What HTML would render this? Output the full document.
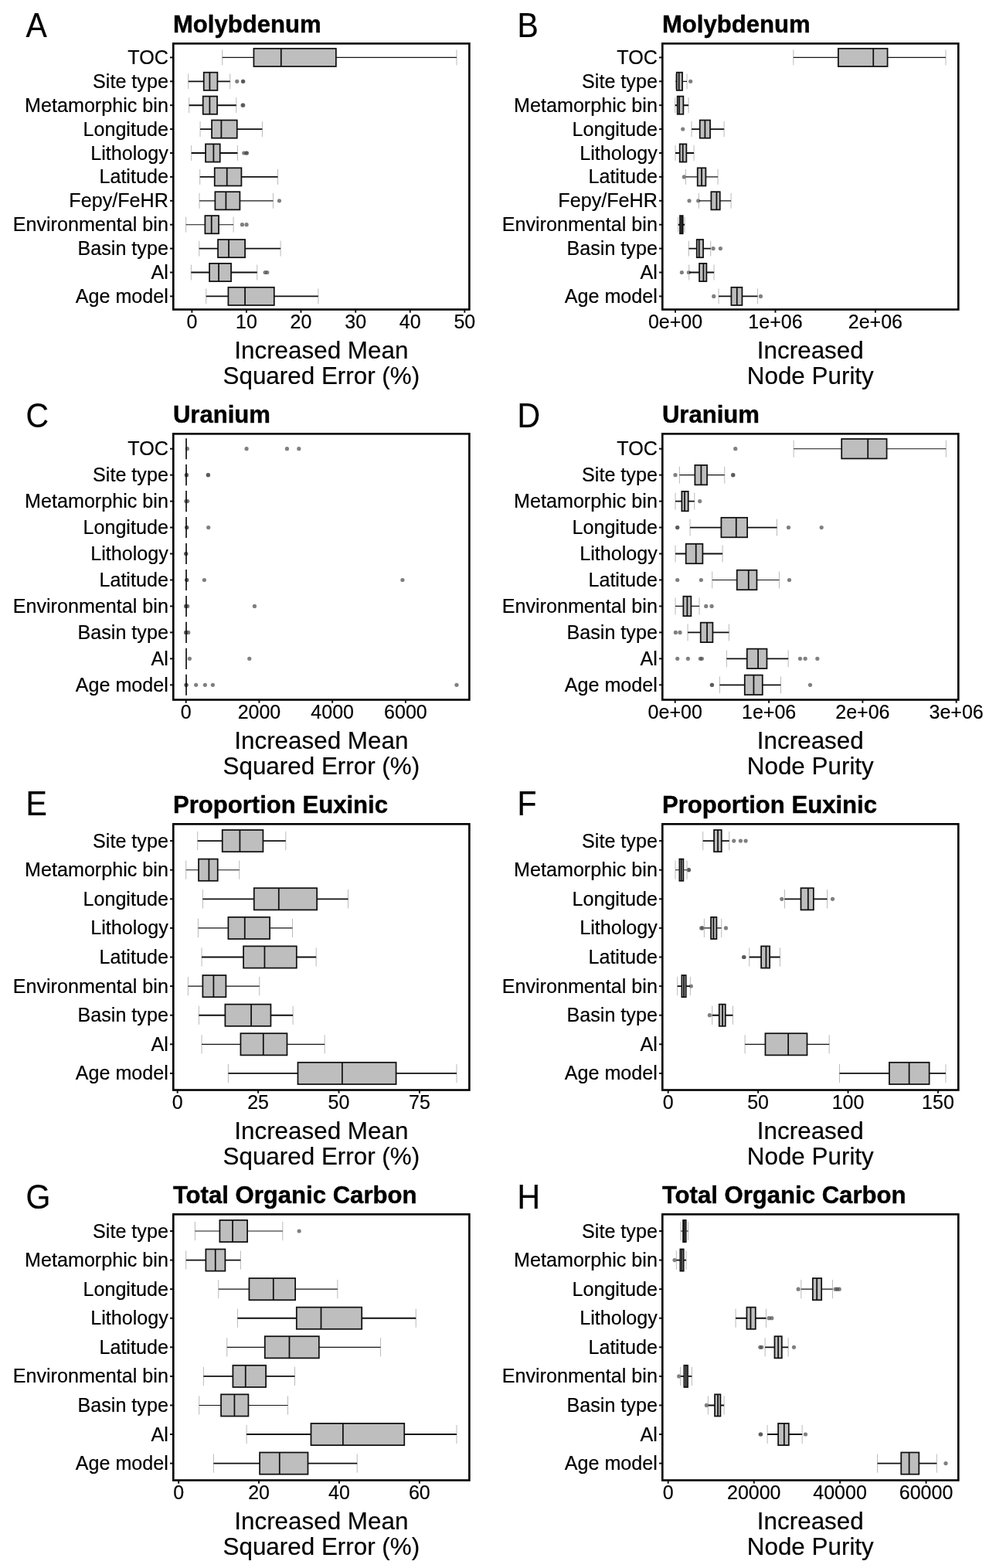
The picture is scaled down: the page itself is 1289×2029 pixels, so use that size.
<!DOCTYPE html>
<html lang="en">
<head>
<meta charset="utf-8">
<title>Random forest variable importance</title>
<style>
html,body{margin:0;padding:0;background:#fff;}
body{width:1289px;height:2029px;overflow:hidden;}
svg{display:block;}
text{font-family:"Liberation Sans", sans-serif;fill:#000;stroke:#000;stroke-width:0.2px;stroke-linejoin:round;}
.tt{stroke-width:0.45px;}
.fr{fill:none;stroke:#000;stroke-width:2.6;}
.tk{stroke:#111;stroke-width:2;fill:none;}
.bx{fill:#bebebe;stroke:#101010;stroke-width:1.75;}
.md{stroke:#101010;stroke-width:1.75;fill:none;}
.md2{stroke:#101010;stroke-width:1.7;fill:none;}
.wk{stroke:#101010;stroke-width:1.85;fill:none;}
.wt{stroke:#141414;stroke-width:1.15;fill:none;}
.cp{stroke:#a8a8a8;stroke-width:0.8;fill:none;}
.ot{fill:#4a4a4a;fill-opacity:0.7;}
</style>
</head>
<body>
<svg width="1289" height="2029" viewBox="0 0 1289 2029">
<rect x="0" y="0" width="1289" height="2029" fill="#fff"/>
<g>
<text transform="translate(33.5 47.85) scale(1 1.085)" font-size="41" class="lt">A</text>
<text x="223.9" y="42.35" font-size="31.1" font-weight="bold" class="tt">Molybdenum</text>
<text x="217.9" y="82.9" font-size="25.15" text-anchor="end" class="yl">TOC</text>
<path d="M220 74.4H224.3" class="tk"/>
<path d="M287.73 64.43V84.37M590.97 64.43V84.37" class="cp"/>
<path d="M287.73 74.4H328.43M434.85 74.4H590.97" class="wt"/>
<rect x="328.43" y="62.81" width="106.42" height="23.17" class="bx"/>
<path d="M363.79 62.81V85.99" class="md"/>
<text x="217.9" y="113.8" font-size="25.15" text-anchor="end" class="yl">Site type</text>
<path d="M220 105.3H224.3" class="tk"/>
<circle cx="306.75" cy="105.3" r="2.6" class="ot"/>
<circle cx="314.42" cy="105.3" r="2.6" class="ot"/>
<circle cx="314.76" cy="105.3" r="2.6" class="ot"/>
<path d="M243.7 95.33V115.27M297.74 95.33V115.27" class="cp"/>
<path d="M243.7 105.3H263.72M281.4 105.3H297.74" class="wk"/>
<rect x="263.72" y="93.71" width="17.68" height="23.17" class="bx"/>
<path d="M271.39 93.71V116.89" class="md"/>
<text x="217.9" y="144.7" font-size="25.15" text-anchor="end" class="yl">Metamorphic bin</text>
<path d="M220 136.2H224.3" class="tk"/>
<circle cx="314.09" cy="136.2" r="2.6" class="ot"/>
<circle cx="314.76" cy="136.2" r="2.6" class="ot"/>
<path d="M244.7 126.23V146.17M305.75 126.23V146.17" class="cp"/>
<path d="M244.7 136.2H262.72M281.06 136.2H305.75" class="wk"/>
<rect x="262.72" y="124.61" width="18.35" height="23.17" class="bx"/>
<path d="M271.39 124.61V147.79" class="md"/>
<text x="217.9" y="175.6" font-size="25.15" text-anchor="end" class="yl">Longitude</text>
<path d="M220 167.1H224.3" class="tk"/>
<path d="M259.05 157.13V177.07M339.44 157.13V177.07" class="cp"/>
<path d="M259.05 167.1H274.06M306.75 167.1H339.44" class="wk"/>
<rect x="274.06" y="155.51" width="32.69" height="23.17" class="bx"/>
<path d="M286.4 155.51V178.69" class="md"/>
<text x="217.9" y="206.5" font-size="25.15" text-anchor="end" class="yl">Lithology</text>
<path d="M220 198H224.3" class="tk"/>
<circle cx="315.76" cy="198" r="2.6" class="ot"/>
<circle cx="318.76" cy="198" r="2.6" class="ot"/>
<circle cx="319.43" cy="198" r="2.6" class="ot"/>
<path d="M247.7 188.03V207.97M307.42 188.03V207.97" class="cp"/>
<path d="M247.7 198H266.05M284.73 198H307.42" class="wk"/>
<rect x="266.05" y="186.41" width="18.68" height="23.17" class="bx"/>
<path d="M276.39 186.41V209.59" class="md"/>
<text x="217.9" y="237.4" font-size="25.15" text-anchor="end" class="yl">Latitude</text>
<path d="M220 228.9H224.3" class="tk"/>
<path d="M258.71 218.93V238.87M359.46 218.93V238.87" class="cp"/>
<path d="M258.71 228.9H277.73M312.42 228.9H359.46" class="wk"/>
<rect x="277.73" y="217.31" width="34.69" height="23.17" class="bx"/>
<path d="M293.74 217.31V240.49" class="md"/>
<text x="217.9" y="268.3" font-size="25.15" text-anchor="end" class="yl">Fepy/FeHR</text>
<path d="M220 259.8H224.3" class="tk"/>
<circle cx="361.46" cy="259.8" r="2.6" class="ot"/>
<path d="M258.04 249.83V269.77M353.45 249.83V269.77" class="cp"/>
<path d="M258.04 259.8H278.39M310.42 259.8H353.45" class="wt"/>
<rect x="278.39" y="248.21" width="32.02" height="23.17" class="bx"/>
<path d="M292.4 248.21V271.39" class="md"/>
<text x="217.9" y="299.2" font-size="25.15" text-anchor="end" class="yl">Environmental bin</text>
<path d="M220 290.7H224.3" class="tk"/>
<circle cx="313.42" cy="290.7" r="2.6" class="ot"/>
<circle cx="319.09" cy="290.7" r="2.6" class="ot"/>
<path d="M240.7 280.73V300.67M302.08 280.73V300.67" class="cp"/>
<path d="M240.7 290.7H265.38M283.06 290.7H302.08" class="wt"/>
<rect x="265.38" y="279.11" width="17.68" height="23.17" class="bx"/>
<path d="M273.72 279.11V302.29" class="md"/>
<text x="217.9" y="330.1" font-size="25.15" text-anchor="end" class="yl">Basin type</text>
<path d="M220 321.6H224.3" class="tk"/>
<path d="M257.71 311.63V331.57M363.13 311.63V331.57" class="cp"/>
<path d="M257.71 321.6H282.06M317.09 321.6H363.13" class="wk"/>
<rect x="282.06" y="310.01" width="35.03" height="23.17" class="bx"/>
<path d="M296.07 310.01V333.19" class="md"/>
<text x="217.9" y="361" font-size="25.15" text-anchor="end" class="yl">Al</text>
<path d="M220 352.5H224.3" class="tk"/>
<circle cx="343.11" cy="352.5" r="2.6" class="ot"/>
<circle cx="345.78" cy="352.5" r="2.6" class="ot"/>
<path d="M247.37 342.53V362.47M332.77 342.53V362.47" class="cp"/>
<path d="M247.37 352.5H271.06M299.08 352.5H332.77" class="wk"/>
<rect x="271.06" y="340.91" width="28.02" height="23.17" class="bx"/>
<path d="M283.06 340.91V364.09" class="md"/>
<text x="217.9" y="391.9" font-size="25.15" text-anchor="end" class="yl">Age model</text>
<path d="M220 383.4H224.3" class="tk"/>
<path d="M266.72 373.43V393.37M411.83 373.43V393.37" class="cp"/>
<path d="M266.72 383.4H295.41M354.79 383.4H411.83" class="wk"/>
<rect x="295.41" y="371.81" width="59.38" height="23.17" class="bx"/>
<path d="M317.09 371.81V394.99" class="md"/>
<rect x="224.3" y="56.35" width="383.1" height="344.15" class="fr"/>
<path d="M248.37 400.5V404.7" class="tk"/>
<text x="248.37" y="424.9" font-size="25.0" text-anchor="middle" class="xt">0</text>
<path d="M318.93 400.5V404.7" class="tk"/>
<text x="318.93" y="424.9" font-size="25.0" text-anchor="middle" class="xt">10</text>
<path d="M389.48 400.5V404.7" class="tk"/>
<text x="389.48" y="424.9" font-size="25.0" text-anchor="middle" class="xt">20</text>
<path d="M460.2 400.5V404.7" class="tk"/>
<text x="460.2" y="424.9" font-size="25.0" text-anchor="middle" class="xt">30</text>
<path d="M530.76 400.5V404.7" class="tk"/>
<text x="530.76" y="424.9" font-size="25.0" text-anchor="middle" class="xt">40</text>
<path d="M601.31 400.5V404.7" class="tk"/>
<text x="601.31" y="424.9" font-size="25.0" text-anchor="middle" class="xt">50</text>
<text x="415.85" y="463.7" font-size="31.4" text-anchor="middle" class="xl">Increased Mean</text>
<text x="415.85" y="497" font-size="31.4" text-anchor="middle" class="xl">Squared Error (%)</text>
</g>
<g>
<text transform="translate(669.6 47.85) scale(1 1.085)" font-size="41" class="lt">B</text>
<text x="856.9" y="42.35" font-size="31.1" font-weight="bold" class="tt">Molybdenum</text>
<text x="850.9" y="82.9" font-size="25.15" text-anchor="end" class="yl">TOC</text>
<path d="M853 74.4H857.3" class="tk"/>
<path d="M1026.82 64.43V84.37M1223.97 64.43V84.37" class="cp"/>
<path d="M1026.82 74.4H1084.86M1148.58 74.4H1223.97" class="wt"/>
<rect x="1084.86" y="62.81" width="63.72" height="23.17" class="bx"/>
<path d="M1130.23 62.81V85.99" class="md"/>
<text x="850.9" y="113.8" font-size="25.15" text-anchor="end" class="yl">Site type</text>
<path d="M853 105.3H857.3" class="tk"/>
<circle cx="893.71" cy="105.3" r="2.6" class="ot"/>
<path d="M874.36 95.33V115.27M889.04 95.33V115.27" class="cp"/>
<path d="M874.36 105.3H875.7M883.04 105.3H889.04" class="wt"/>
<rect x="875.7" y="93.71" width="7.34" height="23.17" class="bx"/>
<path d="M878.7 93.71V116.89" class="md"/>
<text x="850.9" y="144.7" font-size="25.15" text-anchor="end" class="yl">Metamorphic bin</text>
<path d="M853 136.2H857.3" class="tk"/>
<path d="M873.7 126.23V146.17M891.04 126.23V146.17" class="cp"/>
<path d="M873.7 136.2H876.7M884.37 136.2H891.04" class="wk"/>
<rect x="876.7" y="124.61" width="7.67" height="23.17" class="bx"/>
<path d="M879.03 124.61V147.79" class="md"/>
<text x="850.9" y="175.6" font-size="25.15" text-anchor="end" class="yl">Longitude</text>
<path d="M853 167.1H857.3" class="tk"/>
<circle cx="883.7" cy="167.1" r="2.6" class="ot"/>
<path d="M895.05 157.13V177.07M937.08 157.13V177.07" class="cp"/>
<path d="M895.05 167.1H905.72M919.07 167.1H937.08" class="wk"/>
<rect x="905.72" y="155.51" width="13.34" height="23.17" class="bx"/>
<path d="M912.39 155.51V178.69" class="md"/>
<text x="850.9" y="206.5" font-size="25.15" text-anchor="end" class="yl">Lithology</text>
<path d="M853 198H857.3" class="tk"/>
<path d="M874.03 188.03V207.97M898.05 188.03V207.97" class="cp"/>
<path d="M874.03 198H879.7M888.37 198H898.05" class="wk"/>
<rect x="879.7" y="186.41" width="8.67" height="23.17" class="bx"/>
<path d="M883.7 186.41V209.59" class="md"/>
<text x="850.9" y="237.4" font-size="25.15" text-anchor="end" class="yl">Latitude</text>
<path d="M853 228.9H857.3" class="tk"/>
<circle cx="885.37" cy="228.9" r="2.6" class="ot"/>
<path d="M887.37 218.93V238.87M929.07 218.93V238.87" class="cp"/>
<path d="M887.37 228.9H902.72M913.39 228.9H929.07" class="wt"/>
<rect x="902.72" y="217.31" width="10.67" height="23.17" class="bx"/>
<path d="M908.06 217.31V240.49" class="md"/>
<text x="850.9" y="268.3" font-size="25.15" text-anchor="end" class="yl">Fepy/FeHR</text>
<path d="M853 259.8H857.3" class="tk"/>
<circle cx="892.04" cy="259.8" r="2.6" class="ot"/>
<circle cx="903.72" cy="259.8" r="2.6" class="ot"/>
<path d="M904.39 249.83V269.77M946.09 249.83V269.77" class="cp"/>
<path d="M904.39 259.8H920.4M931.74 259.8H946.09" class="wt"/>
<rect x="920.4" y="248.21" width="11.34" height="23.17" class="bx"/>
<path d="M927.4 248.21V271.39" class="md"/>
<text x="850.9" y="299.2" font-size="25.15" text-anchor="end" class="yl">Environmental bin</text>
<path d="M853 290.7H857.3" class="tk"/>
<path d="M877.7 280.73V300.67M886.04 280.73V300.67" class="cp"/>
<path d="M877.7 290.7H880.03M883.7 290.7H886.04" class="wk"/>
<rect x="880.03" y="279.11" width="3.67" height="23.17" class="bx"/>
<path d="M882.04 279.11V302.29" class="md"/>
<text x="850.9" y="330.1" font-size="25.15" text-anchor="end" class="yl">Basin type</text>
<path d="M853 321.6H857.3" class="tk"/>
<circle cx="923.07" cy="321.6" r="2.6" class="ot"/>
<circle cx="932.41" cy="321.6" r="2.6" class="ot"/>
<path d="M891.38 311.63V331.57M919.73 311.63V331.57" class="cp"/>
<path d="M891.38 321.6H901.72M910.06 321.6H919.73" class="wk"/>
<rect x="901.72" y="310.01" width="8.34" height="23.17" class="bx"/>
<path d="M904.72 310.01V333.19" class="md"/>
<text x="850.9" y="361" font-size="25.15" text-anchor="end" class="yl">Al</text>
<path d="M853 352.5H857.3" class="tk"/>
<circle cx="882.37" cy="352.5" r="2.6" class="ot"/>
<circle cx="891.38" cy="352.5" r="2.6" class="ot"/>
<path d="M891.71 342.53V362.47M924.07 342.53V362.47" class="cp"/>
<path d="M891.71 352.5H905.05M914.39 352.5H924.07" class="wk"/>
<rect x="905.05" y="340.91" width="9.34" height="23.17" class="bx"/>
<path d="M910.39 340.91V364.09" class="md"/>
<text x="850.9" y="391.9" font-size="25.15" text-anchor="end" class="yl">Age model</text>
<path d="M853 383.4H857.3" class="tk"/>
<circle cx="923.74" cy="383.4" r="2.6" class="ot"/>
<circle cx="984.45" cy="383.4" r="2.6" class="ot"/>
<path d="M930.07 373.43V393.37M980.45 373.43V393.37" class="cp"/>
<path d="M930.07 383.4H946.42M960.43 383.4H980.45" class="wk"/>
<rect x="946.42" y="371.81" width="14.01" height="23.17" class="bx"/>
<path d="M953.76 371.81V394.99" class="md"/>
<rect x="857.3" y="56.35" width="383" height="344.15" class="fr"/>
<path d="M874.03 400.5V404.7" class="tk"/>
<text x="874.03" y="424.9" font-size="25.0" text-anchor="middle" class="xt">0e+00</text>
<path d="M1003.46 400.5V404.7" class="tk"/>
<text x="1003.46" y="424.9" font-size="25.0" text-anchor="middle" class="xt">1e+06</text>
<path d="M1132.9 400.5V404.7" class="tk"/>
<text x="1132.9" y="424.9" font-size="25.0" text-anchor="middle" class="xt">2e+06</text>
<text x="1048.8" y="463.7" font-size="31.4" text-anchor="middle" class="xl">Increased</text>
<text x="1048.8" y="497" font-size="31.4" text-anchor="middle" class="xl">Node Purity</text>
</g>
<g>
<text transform="translate(33.5 553) scale(1 1.085)" font-size="41" class="lt">C</text>
<text x="223.9" y="547.35" font-size="31.1" font-weight="bold" class="tt">Uranium</text>
<text x="217.9" y="589.2" font-size="25.15" text-anchor="end" class="yl">TOC</text>
<path d="M220 580.7H224.3" class="tk"/>
<circle cx="242.37" cy="580.7" r="2.6" class="ot"/>
<circle cx="319.09" cy="580.7" r="2.6" class="ot"/>
<circle cx="371.47" cy="580.7" r="2.6" class="ot"/>
<circle cx="386.81" cy="580.7" r="2.6" class="ot"/>
<path d="M241.03 567.17V594.23" class="md2"/>
<text x="217.9" y="623.16" font-size="25.15" text-anchor="end" class="yl">Site type</text>
<path d="M220 614.66H224.3" class="tk"/>
<circle cx="241.37" cy="614.66" r="2.6" class="ot"/>
<circle cx="241.37" cy="614.66" r="2.6" class="ot"/>
<circle cx="269.39" cy="614.66" r="2.6" class="ot"/>
<circle cx="269.39" cy="614.66" r="2.6" class="ot"/>
<path d="M241.03 601.12V628.19" class="md2"/>
<text x="217.9" y="657.11" font-size="25.15" text-anchor="end" class="yl">Metamorphic bin</text>
<path d="M220 648.61H224.3" class="tk"/>
<circle cx="240.7" cy="648.61" r="2.6" class="ot"/>
<circle cx="242.7" cy="648.61" r="2.6" class="ot"/>
<path d="M241.03 635.08V662.14" class="md2"/>
<text x="217.9" y="691.07" font-size="25.15" text-anchor="end" class="yl">Longitude</text>
<path d="M220 682.57H224.3" class="tk"/>
<circle cx="241.7" cy="682.57" r="2.6" class="ot"/>
<circle cx="241.7" cy="682.57" r="2.6" class="ot"/>
<circle cx="269.72" cy="682.57" r="2.6" class="ot"/>
<path d="M241.03 669.03V696.1" class="md2"/>
<text x="217.9" y="725.02" font-size="25.15" text-anchor="end" class="yl">Lithology</text>
<path d="M220 716.52H224.3" class="tk"/>
<circle cx="240.7" cy="716.52" r="2.6" class="ot"/>
<circle cx="240.7" cy="716.52" r="2.6" class="ot"/>
<path d="M241.03 702.99V730.06" class="md2"/>
<text x="217.9" y="758.98" font-size="25.15" text-anchor="end" class="yl">Latitude</text>
<path d="M220 750.48H224.3" class="tk"/>
<circle cx="241.7" cy="750.48" r="2.6" class="ot"/>
<circle cx="241.7" cy="750.48" r="2.6" class="ot"/>
<circle cx="264.38" cy="750.48" r="2.6" class="ot"/>
<circle cx="520.92" cy="750.48" r="2.6" class="ot"/>
<path d="M241.03 736.94V764.01" class="md2"/>
<text x="217.9" y="792.93" font-size="25.15" text-anchor="end" class="yl">Environmental bin</text>
<path d="M220 784.43H224.3" class="tk"/>
<circle cx="240.7" cy="784.43" r="2.6" class="ot"/>
<circle cx="240.7" cy="784.43" r="2.6" class="ot"/>
<circle cx="242.7" cy="784.43" r="2.6" class="ot"/>
<circle cx="329.43" cy="784.43" r="2.6" class="ot"/>
<path d="M241.03 770.9V797.97" class="md2"/>
<text x="217.9" y="826.89" font-size="25.15" text-anchor="end" class="yl">Basin type</text>
<path d="M220 818.39H224.3" class="tk"/>
<circle cx="240.7" cy="818.39" r="2.6" class="ot"/>
<circle cx="240.7" cy="818.39" r="2.6" class="ot"/>
<circle cx="243.7" cy="818.39" r="2.6" class="ot"/>
<path d="M241.03 804.86V831.92" class="md2"/>
<text x="217.9" y="860.84" font-size="25.15" text-anchor="end" class="yl">Al</text>
<path d="M220 852.34H224.3" class="tk"/>
<circle cx="245.37" cy="852.34" r="2.6" class="ot"/>
<circle cx="322.76" cy="852.34" r="2.6" class="ot"/>
<path d="M241.03 838.81V865.88" class="md2"/>
<text x="217.9" y="894.8" font-size="25.15" text-anchor="end" class="yl">Age model</text>
<path d="M220 886.3H224.3" class="tk"/>
<circle cx="241.03" cy="886.3" r="2.6" class="ot"/>
<circle cx="241.03" cy="886.3" r="2.6" class="ot"/>
<circle cx="253.71" cy="886.3" r="2.6" class="ot"/>
<circle cx="265.38" cy="886.3" r="2.6" class="ot"/>
<circle cx="275.39" cy="886.3" r="2.6" class="ot"/>
<circle cx="590.97" cy="886.3" r="2.6" class="ot"/>
<path d="M241.03 872.77V899.83" class="md2"/>
<rect x="224.3" y="561.35" width="383.1" height="344.15" class="fr"/>
<path d="M240.7 905.5V909.7" class="tk"/>
<text x="240.7" y="929.9" font-size="25.0" text-anchor="middle" class="xt">0</text>
<path d="M335.44 905.5V909.7" class="tk"/>
<text x="335.44" y="929.9" font-size="25.0" text-anchor="middle" class="xt">2000</text>
<path d="M430.18 905.5V909.7" class="tk"/>
<text x="430.18" y="929.9" font-size="25.0" text-anchor="middle" class="xt">4000</text>
<path d="M524.92 905.5V909.7" class="tk"/>
<text x="524.92" y="929.9" font-size="25.0" text-anchor="middle" class="xt">6000</text>
<text x="415.85" y="968.7" font-size="31.4" text-anchor="middle" class="xl">Increased Mean</text>
<text x="415.85" y="1002" font-size="31.4" text-anchor="middle" class="xl">Squared Error (%)</text>
</g>
<g>
<text transform="translate(669.6 553) scale(1 1.085)" font-size="41" class="lt">D</text>
<text x="856.9" y="547.35" font-size="31.1" font-weight="bold" class="tt">Uranium</text>
<text x="850.9" y="589.2" font-size="25.15" text-anchor="end" class="yl">TOC</text>
<path d="M853 580.7H857.3" class="tk"/>
<circle cx="951.76" cy="580.7" r="2.6" class="ot"/>
<path d="M1027.15 569.75V591.65M1224.3 569.75V591.65" class="cp"/>
<path d="M1027.15 580.7H1089.2M1147.58 580.7H1224.3" class="wt"/>
<rect x="1089.2" y="567.97" width="58.38" height="25.47" class="bx"/>
<path d="M1123.22 567.97V593.43" class="md"/>
<text x="850.9" y="623.16" font-size="25.15" text-anchor="end" class="yl">Site type</text>
<path d="M853 614.66H857.3" class="tk"/>
<circle cx="874.03" cy="614.66" r="2.6" class="ot"/>
<circle cx="948.75" cy="614.66" r="2.6" class="ot"/>
<circle cx="948.75" cy="614.66" r="2.6" class="ot"/>
<path d="M879.37 603.7V625.61M937.75 603.7V625.61" class="cp"/>
<path d="M879.37 614.66H899.38M915.06 614.66H937.75" class="wt"/>
<rect x="899.38" y="601.92" width="15.68" height="25.47" class="bx"/>
<path d="M907.39 601.92V627.39" class="md"/>
<text x="850.9" y="657.11" font-size="25.15" text-anchor="end" class="yl">Metamorphic bin</text>
<path d="M853 648.61H857.3" class="tk"/>
<circle cx="905.72" cy="648.61" r="2.6" class="ot"/>
<path d="M874.03 637.66V659.56M898.72 637.66V659.56" class="cp"/>
<path d="M874.03 648.61H882.37M890.71 648.61H898.72" class="wk"/>
<rect x="882.37" y="635.88" width="8.34" height="25.47" class="bx"/>
<path d="M886.04 635.88V661.34" class="md"/>
<text x="850.9" y="691.07" font-size="25.15" text-anchor="end" class="yl">Longitude</text>
<path d="M853 682.57H857.3" class="tk"/>
<circle cx="876.7" cy="682.57" r="2.6" class="ot"/>
<circle cx="876.7" cy="682.57" r="2.6" class="ot"/>
<circle cx="1020.48" cy="682.57" r="2.6" class="ot"/>
<circle cx="1063.18" cy="682.57" r="2.6" class="ot"/>
<path d="M893.04 671.62V693.52M1005.47 671.62V693.52" class="cp"/>
<path d="M893.04 682.57H933.41M967.1 682.57H1005.47" class="wk"/>
<rect x="933.41" y="669.83" width="33.69" height="25.47" class="bx"/>
<path d="M952.76 669.83V695.3" class="md"/>
<text x="850.9" y="725.02" font-size="25.15" text-anchor="end" class="yl">Lithology</text>
<path d="M853 716.52H857.3" class="tk"/>
<path d="M874.03 705.57V727.47M935.08 705.57V727.47" class="cp"/>
<path d="M874.03 716.52H887.71M909.39 716.52H935.08" class="wk"/>
<rect x="887.71" y="703.79" width="21.68" height="25.47" class="bx"/>
<path d="M900.72 703.79V729.26" class="md"/>
<text x="850.9" y="758.98" font-size="25.15" text-anchor="end" class="yl">Latitude</text>
<path d="M853 750.48H857.3" class="tk"/>
<circle cx="876.7" cy="750.48" r="2.6" class="ot"/>
<circle cx="907.39" cy="750.48" r="2.6" class="ot"/>
<circle cx="1021.48" cy="750.48" r="2.6" class="ot"/>
<path d="M921.73 739.53V761.43M1008.47 739.53V761.43" class="cp"/>
<path d="M921.73 750.48H953.76M979.45 750.48H1008.47" class="wt"/>
<rect x="953.76" y="737.74" width="25.69" height="25.47" class="bx"/>
<path d="M968.77 737.74V763.21" class="md"/>
<text x="850.9" y="792.93" font-size="25.15" text-anchor="end" class="yl">Environmental bin</text>
<path d="M853 784.43H857.3" class="tk"/>
<circle cx="913.73" cy="784.43" r="2.6" class="ot"/>
<circle cx="921.07" cy="784.43" r="2.6" class="ot"/>
<path d="M874.03 773.48V795.38M905.05 773.48V795.38" class="cp"/>
<path d="M874.03 784.43H884.37M894.38 784.43H905.05" class="wt"/>
<rect x="884.37" y="771.7" width="10.01" height="25.47" class="bx"/>
<path d="M889.38 771.7V797.17" class="md"/>
<text x="850.9" y="826.89" font-size="25.15" text-anchor="end" class="yl">Basin type</text>
<path d="M853 818.39H857.3" class="tk"/>
<circle cx="874.36" cy="818.39" r="2.6" class="ot"/>
<circle cx="880.03" cy="818.39" r="2.6" class="ot"/>
<path d="M890.04 807.44V829.34M943.42 807.44V829.34" class="cp"/>
<path d="M890.04 818.39H906.72M922.4 818.39H943.42" class="wk"/>
<rect x="906.72" y="805.66" width="15.68" height="25.47" class="bx"/>
<path d="M915.06 805.66V831.12" class="md"/>
<text x="850.9" y="860.84" font-size="25.15" text-anchor="end" class="yl">Al</text>
<path d="M853 852.34H857.3" class="tk"/>
<circle cx="876.7" cy="852.34" r="2.6" class="ot"/>
<circle cx="890.38" cy="852.34" r="2.6" class="ot"/>
<circle cx="906.39" cy="852.34" r="2.6" class="ot"/>
<circle cx="908.39" cy="852.34" r="2.6" class="ot"/>
<circle cx="1035.49" cy="852.34" r="2.6" class="ot"/>
<circle cx="1042.16" cy="852.34" r="2.6" class="ot"/>
<circle cx="1057.84" cy="852.34" r="2.6" class="ot"/>
<path d="M940.42 841.39V863.3M1020.14 841.39V863.3" class="cp"/>
<path d="M940.42 852.34H966.77M992.46 852.34H1020.14" class="wk"/>
<rect x="966.77" y="839.61" width="25.69" height="25.47" class="bx"/>
<path d="M981.11 839.61V865.08" class="md"/>
<text x="850.9" y="894.8" font-size="25.15" text-anchor="end" class="yl">Age model</text>
<path d="M853 886.3H857.3" class="tk"/>
<circle cx="921.4" cy="886.3" r="2.6" class="ot"/>
<circle cx="921.4" cy="886.3" r="2.6" class="ot"/>
<circle cx="1048.5" cy="886.3" r="2.6" class="ot"/>
<path d="M931.41 875.35V897.25M1010.47 875.35V897.25" class="cp"/>
<path d="M931.41 886.3H963.77M986.78 886.3H1010.47" class="wk"/>
<rect x="963.77" y="873.57" width="23.02" height="25.47" class="bx"/>
<path d="M975.44 873.57V899.03" class="md"/>
<rect x="857.3" y="561.35" width="383" height="344.15" class="fr"/>
<path d="M873.7 905.5V909.7" class="tk"/>
<text x="873.7" y="929.9" font-size="25.0" text-anchor="middle" class="xt">0e+00</text>
<path d="M995.12 905.5V909.7" class="tk"/>
<text x="995.12" y="929.9" font-size="25.0" text-anchor="middle" class="xt">1e+06</text>
<path d="M1116.38 905.5V909.7" class="tk"/>
<text x="1116.38" y="929.9" font-size="25.0" text-anchor="middle" class="xt">2e+06</text>
<path d="M1237.65 905.5V909.7" class="tk"/>
<text x="1237.65" y="929.9" font-size="25.0" text-anchor="middle" class="xt">3e+06</text>
<text x="1048.8" y="968.7" font-size="31.4" text-anchor="middle" class="xl">Increased</text>
<text x="1048.8" y="1002" font-size="31.4" text-anchor="middle" class="xl">Node Purity</text>
</g>
<g>
<text transform="translate(33.5 1054.9) scale(1 1.085)" font-size="41" class="lt">E</text>
<text x="223.9" y="1052.35" font-size="31.1" font-weight="bold" class="tt">Proportion Euxinic</text>
<text x="217.9" y="1096.6" font-size="25.15" text-anchor="end" class="yl">Site type</text>
<path d="M220 1088.1H224.3" class="tk"/>
<path d="M255.71 1075.97V1100.23M369.8 1075.97V1100.23" class="cp"/>
<path d="M255.71 1088.1H287.73M340.44 1088.1H369.8" class="wk"/>
<rect x="287.73" y="1074" width="52.71" height="28.2" class="bx"/>
<path d="M310.42 1074V1102.2" class="md"/>
<text x="217.9" y="1134.2" font-size="25.15" text-anchor="end" class="yl">Metamorphic bin</text>
<path d="M220 1125.7H224.3" class="tk"/>
<path d="M240.7 1113.57V1137.83M309.75 1113.57V1137.83" class="cp"/>
<path d="M240.7 1125.7H257.04M281.73 1125.7H309.75" class="wt"/>
<rect x="257.04" y="1111.6" width="24.69" height="28.2" class="bx"/>
<path d="M270.39 1111.6V1139.8" class="md"/>
<text x="217.9" y="1171.8" font-size="25.15" text-anchor="end" class="yl">Longitude</text>
<path d="M220 1163.3H224.3" class="tk"/>
<path d="M262.38 1151.17V1175.43M450.53 1151.17V1175.43" class="cp"/>
<path d="M262.38 1163.3H328.77M410.16 1163.3H450.53" class="wk"/>
<rect x="328.77" y="1149.2" width="81.4" height="28.2" class="bx"/>
<path d="M360.79 1149.2V1177.4" class="md"/>
<text x="217.9" y="1209.4" font-size="25.15" text-anchor="end" class="yl">Lithology</text>
<path d="M220 1200.9H224.3" class="tk"/>
<path d="M256.38 1188.77V1213.03M378.47 1188.77V1213.03" class="cp"/>
<path d="M256.38 1200.9H295.41M349.12 1200.9H378.47" class="wt"/>
<rect x="295.41" y="1186.8" width="53.71" height="28.2" class="bx"/>
<path d="M316.76 1186.8V1215" class="md"/>
<text x="217.9" y="1247" font-size="25.15" text-anchor="end" class="yl">Latitude</text>
<path d="M220 1238.5H224.3" class="tk"/>
<path d="M261.05 1226.37V1250.63M409.16 1226.37V1250.63" class="cp"/>
<path d="M261.05 1238.5H315.09M383.81 1238.5H409.16" class="wk"/>
<rect x="315.09" y="1224.4" width="68.72" height="28.2" class="bx"/>
<path d="M342.44 1224.4V1252.6" class="md"/>
<text x="217.9" y="1284.6" font-size="25.15" text-anchor="end" class="yl">Environmental bin</text>
<path d="M220 1276.1H224.3" class="tk"/>
<path d="M243.37 1263.97V1288.23M335.77 1263.97V1288.23" class="cp"/>
<path d="M243.37 1276.1H262.38M292.4 1276.1H335.77" class="wt"/>
<rect x="262.38" y="1262" width="30.02" height="28.2" class="bx"/>
<path d="M276.39 1262V1290.2" class="md"/>
<text x="217.9" y="1322.2" font-size="25.15" text-anchor="end" class="yl">Basin type</text>
<path d="M220 1313.7H224.3" class="tk"/>
<path d="M257.38 1301.57V1325.83M379.14 1301.57V1325.83" class="cp"/>
<path d="M257.38 1313.7H291.4M350.45 1313.7H379.14" class="wk"/>
<rect x="291.4" y="1299.6" width="59.05" height="28.2" class="bx"/>
<path d="M325.1 1299.6V1327.8" class="md"/>
<text x="217.9" y="1359.8" font-size="25.15" text-anchor="end" class="yl">Al</text>
<path d="M220 1351.3H224.3" class="tk"/>
<path d="M261.05 1339.17V1363.43M420.17 1339.17V1363.43" class="cp"/>
<path d="M261.05 1351.3H311.42M371.47 1351.3H420.17" class="wt"/>
<rect x="311.42" y="1337.2" width="60.05" height="28.2" class="bx"/>
<path d="M340.78 1337.2V1365.4" class="md"/>
<text x="217.9" y="1397.4" font-size="25.15" text-anchor="end" class="yl">Age model</text>
<path d="M220 1388.9H224.3" class="tk"/>
<path d="M295.41 1376.77V1401.03M590.97 1376.77V1401.03" class="cp"/>
<path d="M295.41 1388.9H385.48M512.58 1388.9H590.97" class="wk"/>
<rect x="385.48" y="1374.8" width="127.1" height="28.2" class="bx"/>
<path d="M442.85 1374.8V1403" class="md"/>
<rect x="224.3" y="1066.35" width="383.1" height="344.15" class="fr"/>
<path d="M229.69 1410.5V1414.7" class="tk"/>
<text x="229.69" y="1434.9" font-size="25.0" text-anchor="middle" class="xt">0</text>
<path d="M334.1 1410.5V1414.7" class="tk"/>
<text x="334.1" y="1434.9" font-size="25.0" text-anchor="middle" class="xt">25</text>
<path d="M438.52 1410.5V1414.7" class="tk"/>
<text x="438.52" y="1434.9" font-size="25.0" text-anchor="middle" class="xt">50</text>
<path d="M542.93 1410.5V1414.7" class="tk"/>
<text x="542.93" y="1434.9" font-size="25.0" text-anchor="middle" class="xt">75</text>
<text x="415.85" y="1473.7" font-size="31.4" text-anchor="middle" class="xl">Increased Mean</text>
<text x="415.85" y="1507" font-size="31.4" text-anchor="middle" class="xl">Squared Error (%)</text>
</g>
<g>
<text transform="translate(669.6 1054.9) scale(1 1.085)" font-size="41" class="lt">F</text>
<text x="856.9" y="1052.35" font-size="31.1" font-weight="bold" class="tt">Proportion Euxinic</text>
<text x="850.9" y="1096.6" font-size="25.15" text-anchor="end" class="yl">Site type</text>
<path d="M853 1088.1H857.3" class="tk"/>
<circle cx="949.76" cy="1088.1" r="2.6" class="ot"/>
<circle cx="958.43" cy="1088.1" r="2.6" class="ot"/>
<circle cx="965.1" cy="1088.1" r="2.6" class="ot"/>
<path d="M909.72 1075.97V1100.23M943.75 1075.97V1100.23" class="cp"/>
<path d="M909.72 1088.1H924.07M933.74 1088.1H943.75" class="wk"/>
<rect x="924.07" y="1074" width="9.67" height="28.2" class="bx"/>
<path d="M929.07 1074V1102.2" class="md"/>
<text x="850.9" y="1134.2" font-size="25.15" text-anchor="end" class="yl">Metamorphic bin</text>
<path d="M853 1125.7H857.3" class="tk"/>
<circle cx="891.38" cy="1125.7" r="2.6" class="ot"/>
<circle cx="891.38" cy="1125.7" r="2.6" class="ot"/>
<path d="M874.03 1113.57V1137.83M889.04 1113.57V1137.83" class="cp"/>
<path d="M874.03 1125.7H879.37M884.37 1125.7H889.04" class="wt"/>
<rect x="879.37" y="1111.6" width="5" height="28.2" class="bx"/>
<path d="M881.7 1111.6V1139.8" class="md"/>
<text x="850.9" y="1171.8" font-size="25.15" text-anchor="end" class="yl">Longitude</text>
<path d="M853 1163.3H857.3" class="tk"/>
<circle cx="1011.8" cy="1163.3" r="2.6" class="ot"/>
<circle cx="1077.52" cy="1163.3" r="2.6" class="ot"/>
<path d="M1015.47 1151.17V1175.43M1070.52 1151.17V1175.43" class="cp"/>
<path d="M1015.47 1163.3H1036.49M1052.84 1163.3H1070.52" class="wk"/>
<rect x="1036.49" y="1149.2" width="16.35" height="28.2" class="bx"/>
<path d="M1045.83 1149.2V1177.4" class="md"/>
<text x="850.9" y="1209.4" font-size="25.15" text-anchor="end" class="yl">Lithology</text>
<path d="M853 1200.9H857.3" class="tk"/>
<circle cx="907.72" cy="1200.9" r="2.6" class="ot"/>
<circle cx="909.06" cy="1200.9" r="2.6" class="ot"/>
<circle cx="939.41" cy="1200.9" r="2.6" class="ot"/>
<path d="M911.39 1188.77V1213.03M933.74 1188.77V1213.03" class="cp"/>
<path d="M911.39 1200.9H920.07M927.4 1200.9H933.74" class="wt"/>
<rect x="920.07" y="1186.8" width="7.34" height="28.2" class="bx"/>
<path d="M923.4 1186.8V1215" class="md"/>
<text x="850.9" y="1247" font-size="25.15" text-anchor="end" class="yl">Latitude</text>
<path d="M853 1238.5H857.3" class="tk"/>
<circle cx="962.43" cy="1238.5" r="2.6" class="ot"/>
<circle cx="963.1" cy="1238.5" r="2.6" class="ot"/>
<path d="M969.77 1226.37V1250.63M1009.47 1226.37V1250.63" class="cp"/>
<path d="M969.77 1238.5H985.12M996.12 1238.5H1009.47" class="wk"/>
<rect x="985.12" y="1224.4" width="11.01" height="28.2" class="bx"/>
<path d="M991.45 1224.4V1252.6" class="md"/>
<text x="850.9" y="1284.6" font-size="25.15" text-anchor="end" class="yl">Environmental bin</text>
<path d="M853 1276.1H857.3" class="tk"/>
<circle cx="894.38" cy="1276.1" r="2.6" class="ot"/>
<path d="M876.7 1263.97V1288.23M893.38 1263.97V1288.23" class="cp"/>
<path d="M876.7 1276.1H882.37M887.71 1276.1H893.38" class="wk"/>
<rect x="882.37" y="1262" width="5.34" height="28.2" class="bx"/>
<path d="M885.04 1262V1290.2" class="md"/>
<text x="850.9" y="1322.2" font-size="25.15" text-anchor="end" class="yl">Basin type</text>
<path d="M853 1313.7H857.3" class="tk"/>
<circle cx="918.4" cy="1313.7" r="2.6" class="ot"/>
<path d="M921.73 1301.57V1325.83M948.42 1301.57V1325.83" class="cp"/>
<path d="M921.73 1313.7H930.74M938.75 1313.7H948.42" class="wk"/>
<rect x="930.74" y="1299.6" width="8.01" height="28.2" class="bx"/>
<path d="M935.08 1299.6V1327.8" class="md"/>
<text x="850.9" y="1359.8" font-size="25.15" text-anchor="end" class="yl">Al</text>
<path d="M853 1351.3H857.3" class="tk"/>
<path d="M964.1 1339.17V1363.43M1073.18 1339.17V1363.43" class="cp"/>
<path d="M964.1 1351.3H990.45M1044.5 1351.3H1073.18" class="wt"/>
<rect x="990.45" y="1337.2" width="54.04" height="28.2" class="bx"/>
<path d="M1020.14 1337.2V1365.4" class="md"/>
<text x="850.9" y="1397.4" font-size="25.15" text-anchor="end" class="yl">Age model</text>
<path d="M853 1388.9H857.3" class="tk"/>
<path d="M1086.53 1376.77V1401.03M1223.97 1376.77V1401.03" class="cp"/>
<path d="M1086.53 1388.9H1150.91M1202.62 1388.9H1223.97" class="wk"/>
<rect x="1150.91" y="1374.8" width="51.71" height="28.2" class="bx"/>
<path d="M1176.6 1374.8V1403" class="md"/>
<rect x="857.3" y="1066.35" width="383" height="344.15" class="fr"/>
<path d="M864.69 1410.5V1414.7" class="tk"/>
<text x="864.69" y="1434.9" font-size="25.0" text-anchor="middle" class="xt">0</text>
<path d="M981.11 1410.5V1414.7" class="tk"/>
<text x="981.11" y="1434.9" font-size="25.0" text-anchor="middle" class="xt">50</text>
<path d="M1097.54 1410.5V1414.7" class="tk"/>
<text x="1097.54" y="1434.9" font-size="25.0" text-anchor="middle" class="xt">100</text>
<path d="M1213.96 1410.5V1414.7" class="tk"/>
<text x="1213.96" y="1434.9" font-size="25.0" text-anchor="middle" class="xt">150</text>
<text x="1048.8" y="1473.7" font-size="31.4" text-anchor="middle" class="xl">Increased</text>
<text x="1048.8" y="1507" font-size="31.4" text-anchor="middle" class="xl">Node Purity</text>
</g>
<g>
<text transform="translate(33.5 1563.9) scale(1 1.085)" font-size="41" class="lt">G</text>
<text x="223.9" y="1557.35" font-size="31.1" font-weight="bold" class="tt">Total Organic Carbon</text>
<text x="217.9" y="1601.5" font-size="25.15" text-anchor="end" class="yl">Site type</text>
<path d="M220 1593H224.3" class="tk"/>
<circle cx="387.15" cy="1593" r="2.6" class="ot"/>
<path d="M252.37 1580.88V1605.12M365.8 1580.88V1605.12" class="cp"/>
<path d="M252.37 1593H284.4M320.09 1593H365.8" class="wt"/>
<rect x="284.4" y="1578.91" width="35.69" height="28.18" class="bx"/>
<path d="M301.08 1578.91V1607.09" class="md"/>
<text x="217.9" y="1639.08" font-size="25.15" text-anchor="end" class="yl">Metamorphic bin</text>
<path d="M220 1630.58H224.3" class="tk"/>
<path d="M240.7 1618.46V1642.69M311.42 1618.46V1642.69" class="cp"/>
<path d="M240.7 1630.58H266.38M291.4 1630.58H311.42" class="wk"/>
<rect x="266.38" y="1616.48" width="25.02" height="28.18" class="bx"/>
<path d="M278.73 1616.48V1644.67" class="md"/>
<text x="217.9" y="1676.65" font-size="25.15" text-anchor="end" class="yl">Longitude</text>
<path d="M220 1668.15H224.3" class="tk"/>
<path d="M282.73 1656.03V1680.27M436.85 1656.03V1680.27" class="cp"/>
<path d="M282.73 1668.15H322.43M382.14 1668.15H436.85" class="wt"/>
<rect x="322.43" y="1654.06" width="59.71" height="28.18" class="bx"/>
<path d="M353.79 1654.06V1682.24" class="md"/>
<text x="217.9" y="1714.22" font-size="25.15" text-anchor="end" class="yl">Lithology</text>
<path d="M220 1705.72H224.3" class="tk"/>
<path d="M307.42 1693.61V1717.84M538.26 1693.61V1717.84" class="cp"/>
<path d="M307.42 1705.72H383.81M468.21 1705.72H538.26" class="wk"/>
<rect x="383.81" y="1691.63" width="84.4" height="28.18" class="bx"/>
<path d="M415.5 1691.63V1719.82" class="md"/>
<text x="217.9" y="1751.8" font-size="25.15" text-anchor="end" class="yl">Latitude</text>
<path d="M220 1743.3H224.3" class="tk"/>
<path d="M293.74 1731.18V1755.42M492.56 1731.18V1755.42" class="cp"/>
<path d="M293.74 1743.3H342.78M412.83 1743.3H492.56" class="wt"/>
<rect x="342.78" y="1729.21" width="70.05" height="28.18" class="bx"/>
<path d="M374.47 1729.21V1757.39" class="md"/>
<text x="217.9" y="1789.38" font-size="25.15" text-anchor="end" class="yl">Environmental bin</text>
<path d="M220 1780.88H224.3" class="tk"/>
<path d="M263.38 1768.76V1792.99M381.47 1768.76V1792.99" class="cp"/>
<path d="M263.38 1780.88H301.41M344.11 1780.88H381.47" class="wk"/>
<rect x="301.41" y="1766.78" width="42.7" height="28.18" class="bx"/>
<path d="M317.76 1766.78V1794.97" class="md"/>
<text x="217.9" y="1826.95" font-size="25.15" text-anchor="end" class="yl">Basin type</text>
<path d="M220 1818.45H224.3" class="tk"/>
<path d="M257.71 1806.33V1830.57M372.47 1806.33V1830.57" class="cp"/>
<path d="M257.71 1818.45H286.07M321.43 1818.45H372.47" class="wt"/>
<rect x="286.07" y="1804.36" width="35.36" height="28.18" class="bx"/>
<path d="M303.41 1804.36V1832.54" class="md"/>
<text x="217.9" y="1864.52" font-size="25.15" text-anchor="end" class="yl">Al</text>
<path d="M220 1856.02H224.3" class="tk"/>
<path d="M319.09 1843.91V1868.14M590.97 1843.91V1868.14" class="cp"/>
<path d="M319.09 1856.02H402.49M523.25 1856.02H590.97" class="wk"/>
<rect x="402.49" y="1841.93" width="120.76" height="28.18" class="bx"/>
<path d="M443.86 1841.93V1870.12" class="md"/>
<text x="217.9" y="1902.1" font-size="25.15" text-anchor="end" class="yl">Age model</text>
<path d="M220 1893.6H224.3" class="tk"/>
<path d="M276.39 1881.48V1905.72M462.2 1881.48V1905.72" class="cp"/>
<path d="M276.39 1893.6H336.11M398.49 1893.6H462.2" class="wk"/>
<rect x="336.11" y="1879.51" width="62.38" height="28.18" class="bx"/>
<path d="M361.79 1879.51V1907.69" class="md"/>
<rect x="224.3" y="1571.35" width="383.1" height="344.15" class="fr"/>
<path d="M231.19 1915.5V1919.7" class="tk"/>
<text x="231.19" y="1939.9" font-size="25.0" text-anchor="middle" class="xt">0</text>
<path d="M335.04 1915.5V1919.7" class="tk"/>
<text x="335.04" y="1939.9" font-size="25.0" text-anchor="middle" class="xt">20</text>
<path d="M438.92 1915.5V1919.7" class="tk"/>
<text x="438.92" y="1939.9" font-size="25.0" text-anchor="middle" class="xt">40</text>
<path d="M542.87 1915.5V1919.7" class="tk"/>
<text x="542.87" y="1939.9" font-size="25.0" text-anchor="middle" class="xt">60</text>
<text x="415.85" y="1978.7" font-size="31.4" text-anchor="middle" class="xl">Increased Mean</text>
<text x="415.85" y="2012" font-size="31.4" text-anchor="middle" class="xl">Squared Error (%)</text>
</g>
<g>
<text transform="translate(669.6 1563.9) scale(1 1.085)" font-size="41" class="lt">H</text>
<text x="856.9" y="1557.35" font-size="31.1" font-weight="bold" class="tt">Total Organic Carbon</text>
<text x="850.9" y="1601.5" font-size="25.15" text-anchor="end" class="yl">Site type</text>
<path d="M853 1593H857.3" class="tk"/>
<path d="M881.04 1580.88V1605.12M890.71 1580.88V1605.12" class="cp"/>
<path d="M881.04 1593H884.04M887.71 1593H890.71" class="wt"/>
<rect x="884.04" y="1578.91" width="3.67" height="28.18" class="bx"/>
<path d="M885.71 1578.91V1607.09" class="md"/>
<text x="850.9" y="1639.08" font-size="25.15" text-anchor="end" class="yl">Metamorphic bin</text>
<path d="M853 1630.58H857.3" class="tk"/>
<circle cx="873.03" cy="1630.58" r="2.6" class="ot"/>
<path d="M875.36 1618.46V1642.69M888.04 1618.46V1642.69" class="cp"/>
<path d="M875.36 1630.58H880.37M884.71 1630.58H888.04" class="wk"/>
<rect x="880.37" y="1616.48" width="4.34" height="28.18" class="bx"/>
<path d="M882.37 1616.48V1644.67" class="md"/>
<text x="850.9" y="1676.65" font-size="25.15" text-anchor="end" class="yl">Longitude</text>
<path d="M853 1668.15H857.3" class="tk"/>
<circle cx="1033.15" cy="1668.15" r="2.6" class="ot"/>
<circle cx="1081.19" cy="1668.15" r="2.6" class="ot"/>
<circle cx="1083.53" cy="1668.15" r="2.6" class="ot"/>
<circle cx="1086.19" cy="1668.15" r="2.6" class="ot"/>
<path d="M1036.82 1656.03V1680.27M1077.52 1656.03V1680.27" class="cp"/>
<path d="M1036.82 1668.15H1051.83M1063.18 1668.15H1077.52" class="wt"/>
<rect x="1051.83" y="1654.06" width="11.34" height="28.18" class="bx"/>
<path d="M1057.17 1654.06V1682.24" class="md"/>
<text x="850.9" y="1714.22" font-size="25.15" text-anchor="end" class="yl">Lithology</text>
<path d="M853 1705.72H857.3" class="tk"/>
<circle cx="995.12" cy="1705.72" r="2.6" class="ot"/>
<circle cx="998.79" cy="1705.72" r="2.6" class="ot"/>
<path d="M952.09 1693.61V1717.84M991.45 1693.61V1717.84" class="cp"/>
<path d="M952.09 1705.72H966.44M977.78 1705.72H991.45" class="wk"/>
<rect x="966.44" y="1691.63" width="11.34" height="28.18" class="bx"/>
<path d="M971.44 1691.63V1719.82" class="md"/>
<text x="850.9" y="1751.8" font-size="25.15" text-anchor="end" class="yl">Latitude</text>
<path d="M853 1743.3H857.3" class="tk"/>
<circle cx="983.78" cy="1743.3" r="2.6" class="ot"/>
<circle cx="985.78" cy="1743.3" r="2.6" class="ot"/>
<circle cx="1027.48" cy="1743.3" r="2.6" class="ot"/>
<path d="M990.12 1731.18V1755.42M1020.14 1731.18V1755.42" class="cp"/>
<path d="M990.12 1743.3H1002.46M1011.8 1743.3H1020.14" class="wk"/>
<rect x="1002.46" y="1729.21" width="9.34" height="28.18" class="bx"/>
<path d="M1007.13 1729.21V1757.39" class="md"/>
<text x="850.9" y="1789.38" font-size="25.15" text-anchor="end" class="yl">Environmental bin</text>
<path d="M853 1780.88H857.3" class="tk"/>
<circle cx="878.7" cy="1780.88" r="2.6" class="ot"/>
<path d="M880.7 1768.76V1792.99M895.38 1768.76V1792.99" class="cp"/>
<path d="M880.7 1780.88H885.37M890.04 1780.88H895.38" class="wk"/>
<rect x="885.37" y="1766.78" width="4.67" height="28.18" class="bx"/>
<path d="M887.71 1766.78V1794.97" class="md"/>
<text x="850.9" y="1826.95" font-size="25.15" text-anchor="end" class="yl">Basin type</text>
<path d="M853 1818.45H857.3" class="tk"/>
<circle cx="914.39" cy="1818.45" r="2.6" class="ot"/>
<path d="M916.4 1806.33V1830.57M937.08 1806.33V1830.57" class="cp"/>
<path d="M916.4 1818.45H925.07M932.41 1818.45H937.08" class="wk"/>
<rect x="925.07" y="1804.36" width="7.34" height="28.18" class="bx"/>
<path d="M929.07 1804.36V1832.54" class="md"/>
<text x="850.9" y="1864.52" font-size="25.15" text-anchor="end" class="yl">Al</text>
<path d="M853 1856.02H857.3" class="tk"/>
<circle cx="984.12" cy="1856.02" r="2.6" class="ot"/>
<circle cx="984.78" cy="1856.02" r="2.6" class="ot"/>
<circle cx="1042.49" cy="1856.02" r="2.6" class="ot"/>
<path d="M993.12 1843.91V1868.14M1038.16 1843.91V1868.14" class="cp"/>
<path d="M993.12 1856.02H1007.13M1020.81 1856.02H1038.16" class="wk"/>
<rect x="1007.13" y="1841.93" width="13.68" height="28.18" class="bx"/>
<path d="M1014.81 1841.93V1870.12" class="md"/>
<text x="850.9" y="1902.1" font-size="25.15" text-anchor="end" class="yl">Age model</text>
<path d="M853 1893.6H857.3" class="tk"/>
<circle cx="1223.97" cy="1893.6" r="2.6" class="ot"/>
<path d="M1135.57 1881.48V1905.72M1212.29 1881.48V1905.72" class="cp"/>
<path d="M1135.57 1893.6H1166.26M1189.27 1893.6H1212.29" class="wk"/>
<rect x="1166.26" y="1879.51" width="23.02" height="28.18" class="bx"/>
<path d="M1176.6 1879.51V1907.69" class="md"/>
<rect x="857.3" y="1571.35" width="383" height="344.15" class="fr"/>
<path d="M864.69 1915.5V1919.7" class="tk"/>
<text x="864.69" y="1939.9" font-size="25.0" text-anchor="middle" class="xt">0</text>
<path d="M975.78 1915.5V1919.7" class="tk"/>
<text x="975.78" y="1939.9" font-size="25.0" text-anchor="middle" class="xt">20000</text>
<path d="M1087.06 1915.5V1919.7" class="tk"/>
<text x="1087.06" y="1939.9" font-size="25.0" text-anchor="middle" class="xt">40000</text>
<path d="M1198.55 1915.5V1919.7" class="tk"/>
<text x="1198.55" y="1939.9" font-size="25.0" text-anchor="middle" class="xt">60000</text>
<text x="1048.8" y="1978.7" font-size="31.4" text-anchor="middle" class="xl">Increased</text>
<text x="1048.8" y="2012" font-size="31.4" text-anchor="middle" class="xl">Node Purity</text>
</g>
</svg>
</body>
</html>
